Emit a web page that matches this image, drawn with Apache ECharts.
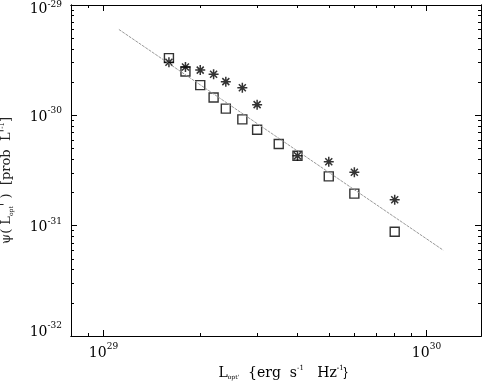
<!DOCTYPE html>
<html>
<head>
<meta charset="utf-8">
<script src="https://cdn.jsdelivr.net/npm/echarts@6/dist/echarts.min.js"></script>
<style>
html,body{margin:0;padding:0;background:#fff;}
#main{width:485px;height:382px;}
</style>
</head>
<body>
<div id="main"></div>
<script>
// luminosity bins, erg s^-1 Hz^-1
var lumSquares=[1.6e29,1.8e29,2.0e29,2.2e29,2.4e29,2.7e29,3.0e29,3.5e29,4.0e29,5.0e29,6.0e29,8.0e29];
var psiSquares=[3.3e-30,2.5e-30,1.88e-30,1.45e-30,1.15e-30,9.2e-31,7.4e-31,5.5e-31,4.3e-31,2.8e-31,1.95e-31,8.8e-32];
var lumStars=[1.6e29,1.8e29,2.0e29,2.2e29,2.4e29,2.7e29,3.0e29,4.0e29,5.0e29,6.0e29,8.0e29];
var psiStars=[3.03e-30,2.74e-30,2.57e-30,2.36e-30,2.02e-30,1.78e-30,1.25e-30,4.3e-31,3.8e-31,3.05e-31,1.72e-31];
// power law fit, end points
var fitLum=[1.12e29,1.13e30];
var fitPsi=[6.0e-30,6.0e-32];

var xRange=[7.96e28,1.48e30];
var yRange=[1e-32,1e-29];
var xMajor=[1e29,1e30];
var xMinor=[9e28,2e29,3e29,4e29,5e29,6e29,7e29,8e29,9e29];
var yMajor=[1e-32,1e-31,1e-30,1e-29];
var yMinor=[2e-32,3e-32,4e-32,5e-32,6e-32,7e-32,8e-32,9e-32,
            2e-31,3e-31,4e-31,5e-31,6e-31,7e-31,8e-31,9e-31,
            2e-30,3e-30,4e-30,5e-30,6e-30,7e-30,8e-30,9e-30];

var lg=Math.log10;
function pairs(xs,ys){
    return xs.map(function(x,i){return [lg(x),lg(ys[i])];});
}

var font='DejaVu Serif';
// 10^n labels: g sets the line height, b digits, s exponent
var tickRich={
    g:{fontFamily:font,fontSize:14,lineHeight:18,width:1},
    gTop:{fontFamily:font,fontSize:14,lineHeight:22,width:1},
    gLow:{fontFamily:font,fontSize:14,lineHeight:30,width:1},
    b:{fontFamily:font,fontSize:14,color:'#000',height:14,verticalAlign:'bottom'},
    bLow:{fontFamily:font,fontSize:14,color:'#000',height:22,verticalAlign:'top'},
    s:{fontFamily:font,fontSize:9,color:'#000',height:9,verticalAlign:'top'},
    sTop:{fontFamily:font,fontSize:9,color:'#000',height:21,verticalAlign:'top'},
    sLow:{fontFamily:font,fontSize:9,color:'#000',height:10,verticalAlign:'top'}
};
function powLabel(v){
    var n=Math.round(v);
    if(n==-29) return '{gTop| }{b|10}{sTop|'+n+'}';
    if(n==-32) return '{gLow| }{bLow|10}{sLow|'+n+'}';
    return '{g| }{b|10}{s|'+n+'}';
}

function axis(dim,pos,ticks,len,withLabel){
    var range=dim=='x'?xRange:yRange;
    return {
        type:'value',
        position:pos,
        min:lg(range[0]),
        max:lg(range[1]),
        axisLine:{show:true,onZero:false,lineStyle:{color:'#000',width:1}},
        axisTick:{show:true,inside:true,length:len,customValues:ticks.map(lg),lineStyle:{color:'#000',width:1}},
        axisLabel:{show:withLabel,customValues:ticks.map(lg),formatter:powLabel,rich:tickRich,
                   fontFamily:font,fontSize:14,color:'#000',
                   margin:dim=='x'?6:9},
        splitLine:{show:false}
    };
}

var nameRich={
    t:{fontFamily:font,fontSize:14,color:'#000',lineHeight:16},
    u:{fontFamily:font,fontSize:6,color:'#000',verticalAlign:'bottom',lineHeight:11},
    p:{fontFamily:font,fontSize:7,color:'#000',verticalAlign:'top',lineHeight:10},
    w:{fontSize:13,width:14}
};

var xMain=axis('x','bottom',xMajor,6,true);
xMain.name='{w| }{t|L}{u|opt\'}{t|  {erg  s}{p|-1}{t|   Hz}{p|-1}{t|}}';
xMain.nameLocation='middle';
xMain.nameGap=15;
xMain.nameTextStyle={rich:nameRich};

var yMain=axis('y','left',yMajor,6,true);
yMain.name='{t|\u03c8( L}{u|opt}{t|\' )  [prob  L\'}{p|-1}{t|]}{w| }';
yMain.nameLocation='middle';
yMain.nameGap=50;
yMain.nameTextStyle={rich:{
    t:{fontFamily:font,fontSize:13,color:'#222',lineHeight:16},
    u:nameRich.u,
    p:nameRich.p,
    w:{fontSize:13,width:20}
}};

var myChart=echarts.init(document.getElementById('main'));
var option={
    animation:false,
    backgroundColor:'#fff',
    grid:{left:71,right:4,top:5,bottom:46,containLabel:false,outerBoundsMode:'none'},
    xAxis:[
        xMain,
        axis('x','bottom',xMinor,3,false),
        axis('x','top',xMajor,6,false),
        axis('x','top',xMinor,3,false)
    ],
    yAxis:[
        yMain,
        axis('y','left',yMinor,3,false),
        axis('y','right',yMajor,6,false),
        axis('y','right',yMinor,3,false)
    ],
    series:[
        {
            type:'line',
            data:pairs(fitLum,fitPsi),
            symbol:'none',
            lineStyle:{color:'#999',width:1,type:[3,1]},
            silent:true
        },
        {
            type:'scatter',
            data:pairs(lumSquares,psiSquares),
            symbol:'rect',
            symbolSize:9,
            itemStyle:{color:'none',borderColor:'#000',borderWidth:1.4}
        },
        {
            type:'scatter',
            data:pairs(lumStars,psiStars),
            symbol:'path://M5 0L5 10M0 5L10 5M1.5 1.5L8.5 8.5M8.5 1.5L1.5 8.5',
            symbolSize:10,
            itemStyle:{color:'none',borderColor:'#000',borderWidth:1.5}
        }
    ]
};
myChart.setOption(option);
</script>
</body>
</html>
